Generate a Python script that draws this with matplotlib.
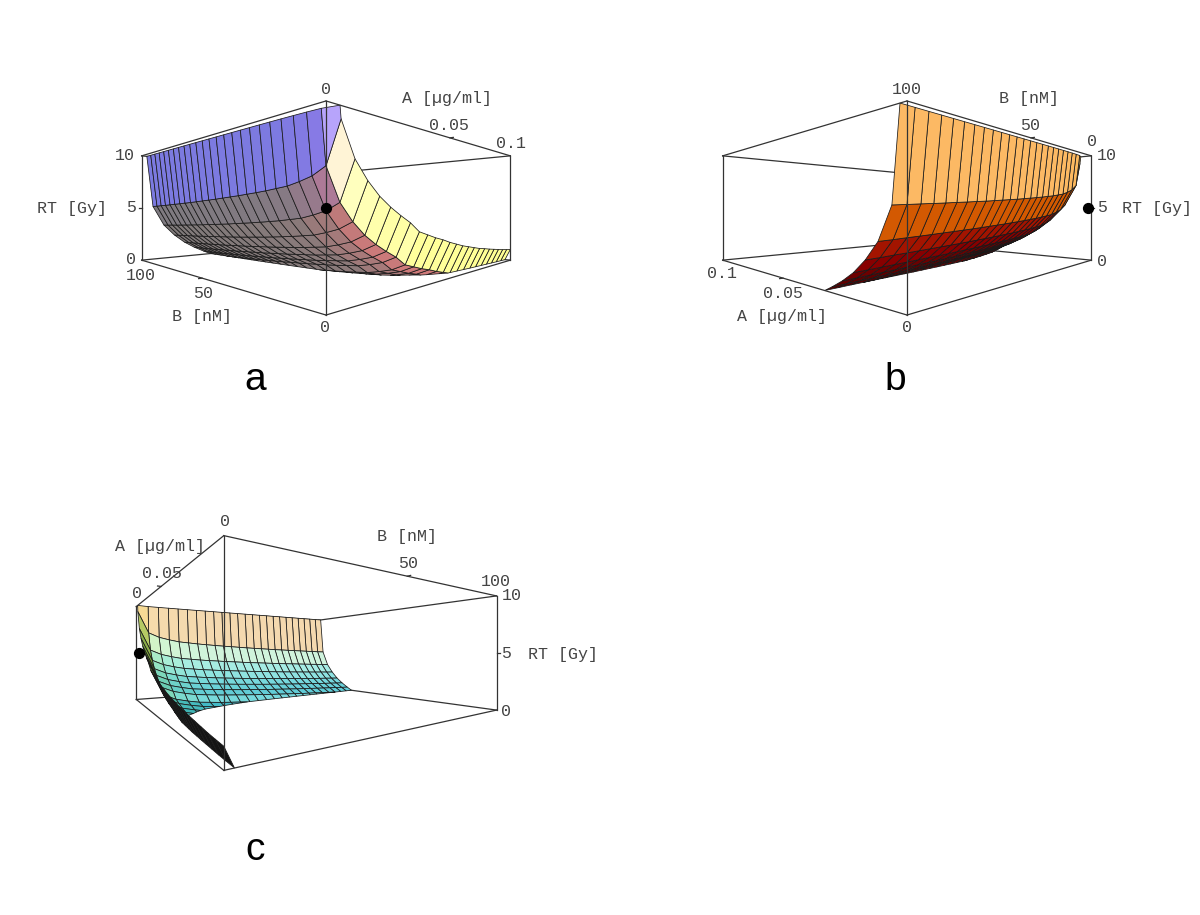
import numpy as np
import matplotlib
matplotlib.use("Agg")
import matplotlib.pyplot as plt
from mpl_toolkits.mplot3d.art3d import Poly3DCollection

# RT [Gy] contribution read along each drug axis (24 intervals, 25 nodes)
a_max = 0.1
b_max = 100.0
rt_max = 10.0
rt_vs_a = [14.0, 5.15, 3.3, 2.25, 1.45, 0.85, 0.35, -0.1, -0.7, -0.95, -1.2, -1.4, -1.65,
           -1.85, -2.05, -2.2, -2.35, -2.5, -2.6, -2.72, -2.82, -2.92, -3.02, -3.1, -3.17]
rt_vs_b = [4.2, 2.0, 1.55, 1.3, 1.1, 1.0, 0.9, 0.82, 0.75, 0.68, 0.62, 0.56, 0.5,
           0.45, 0.4, 0.35, 0.3, 0.26, 0.22, 0.18, 0.14, 0.1, 0.07, 0.03, 0.0]
point_a = [0.0008]
point_b = [0.8]
point_rt = [5.0]

labels_a = [("0", 326, 89), ("A [µg/ml]", 447, 99), ("0.05", 449, 125), ("0.1", 511, 143),
            ("10", 125, 155), ("5", 131, 208), ("RT [Gy]", 72, 208), ("0", 131, 260),
            ("100", 141, 275), ("50", 203, 293), ("B [nM]", 202, 317), ("0", 325, 327)]
labels_b = [("100", 907, 89), ("B [nM]", 1029, 99), ("50", 1030, 125), ("0", 1092, 141),
            ("10", 1107, 155), ("5", 1102, 208), ("RT [Gy]", 1157, 208), ("0", 1102, 262),
            ("0.1", 722, 274), ("0.05", 783, 293), ("A [µg/ml]", 782, 317), ("0", 907, 327)]
labels_c = [("0", 225, 521), ("A [µg/ml]", 160, 546), ("0.05", 162, 573), ("0", 137, 594),
            ("B [nM]", 407, 536), ("50", 408, 563), ("100", 496, 582), ("10", 512, 596),
            ("5", 506, 654), ("RT [Gy]", 563, 654), ("0", 506, 712)]

W, H = 1200, 915
LIGHTS = np.array([[1, 0, 1], [1, 1, 1], [0, 1, 1]], dtype=float)
LIGHTS = LIGHTS / np.linalg.norm(LIGHTS, axis=1, keepdims=True)


def clip_plane(pts, level, keep_above):
    out = []
    for k in range(len(pts)):
        p, q = pts[k], pts[(k + 1) % len(pts)]
        p_in = p[2] >= level if keep_above else p[2] <= level
        q_in = q[2] >= level if keep_above else q[2] <= level
        if p_in:
            out.append(p)
        if p_in != q_in:
            t = (level - p[2]) / (q[2] - p[2])
            out.append(p + t * (q - p))
    return out


def surface_polys(azim, ratio, ambient, gain):
    A = np.linspace(0, a_max, len(rt_vs_a))
    B = np.linspace(0, b_max, len(rt_vs_b))
    Z = np.add.outer(np.array(rt_vs_a), np.array(rt_vs_b))
    az = np.radians(azim)
    toward = np.array([np.cos(az), np.sin(az), 0])
    right = np.array([-np.sin(az), np.cos(az), 0])
    up = np.array([0, 0, 1.0])
    eye = np.array([0.5, 0.5, 0.2]) + ratio * np.sqrt(0.5) * toward
    polys, colors = [], []
    for i in range(len(A) - 1):
        for j in range(len(B) - 1):
            quad = np.array([[A[i], B[j], Z[i, j]], [A[i + 1], B[j], Z[i + 1, j]],
                             [A[i + 1], B[j + 1], Z[i + 1, j + 1]], [A[i], B[j + 1], Z[i, j + 1]]])
            box = quad / [a_max, b_max, rt_max / 0.33]
            n = np.cross(box[2] - box[0], box[3] - box[1])
            n = n / np.linalg.norm(n)
            if np.dot(eye - box.mean(axis=0), n) < 0:
                n = -n
            view_n = np.array([n @ right, n @ up, n @ toward])
            rgb = np.clip(ambient + np.array(gain) * np.maximum(LIGHTS @ view_n, 0), 0, 1)
            pts = clip_plane(clip_plane(list(quad), 0.0, True), rt_max, False)
            if len(pts) >= 3:
                polys.append(np.array(pts))
                colors.append(rgb)
    return polys, colors


def draw_panel(center, size, azim, ratio, ambient, gain, far_corner, ticks, labels):
    half = size * 0.095 / 0.185
    ax = fig.add_axes([(center[0] - half) / W, (H - center[1] - half) / H, size / W, size / H],
                      projection="3d")
    ax.patch.set_alpha(0)
    ax.computed_zorder = False
    ax.set_xlim(0, a_max)
    ax.set_ylim(0, b_max)
    ax.set_zlim(0, rt_max)
    ax.set_box_aspect((1, 1, 0.4), zoom=0.5)
    hd = np.sqrt(0.5) * 1.2967 * 0.5
    ax.set_proj_type("persp", focal_length=ratio * hd / 10)
    ax.view_init(elev=0, azim=azim)
    ax.set_axis_off()

    # box edges: those touching the far corner sit behind the surface
    xs, ys = [0, a_max], [0, b_max]
    corners = [(x, y) for x in xs for y in ys]
    for (x, y) in corners:
        z_order = 1 if (x, y) == far_corner else 5
        ax.plot([x, x], [y, y], [0, rt_max], color="#333333", lw=0.9, zorder=z_order)
        for z in (0, rt_max):
            for (x2, y2) in corners:
                if (x2 == x) != (y2 == y) and (x, y) < (x2, y2):
                    behind = far_corner in ((x, y), (x2, y2))
                    ax.plot([x, x2], [y, y2], [z, z], color="#333333", lw=0.9,
                            zorder=1 if behind else 5)
    for p, q in ticks:
        ax.plot([p[0], q[0]], [p[1], q[1]], [p[2], q[2]], color="#333333", lw=0.9, zorder=5)

    polys, colors = surface_polys(azim, ratio, ambient, gain)
    ax.add_collection3d(Poly3DCollection(polys, facecolors=colors, edgecolors="#1a1a1a",
                                         linewidths=0.55, zorder=3))
    ax.scatter(point_a, point_b, point_rt, color="black", s=50, depthshade=False, zorder=6)

    for txt, x, y in labels:
        fig.text(x / W, 1 - y / H, txt, family="Liberation Mono", fontsize=12, color="#444444",
                 ha="center", va="center")


fig = plt.figure(figsize=(12, 9.15), dpi=100)

draw_panel((326, 208), 744, -135, 1.95, 0.48, (1, 1.4, 1), (a_max, b_max),
           [((0.05, 0, 10), (0.05, -1, 10)), ((0, 50, 0), (-0.001, 50, 0)), ((0, 100, 5), (-0.001, 100, 5))],
           labels_a)
draw_panel((907, 208), 744, 135, 1.95, 0.0, (1, 1, 1), (a_max, 0),
           [((0, 50, 10), (-0.001, 50, 10)), ((0.05, 100, 0), (0.05, 101, 0)), ((0, 0, 5), (-0.001, 0, 5))],
           labels_b)
draw_panel((298, 653), 731, -34.7, 1.746, 0.08, (0.9, 0.88, 0.9), (0, b_max),
           [((0.1, 50, 10), (0.101, 50, 10)), ((0.05, 0, 10), (0.05, -1, 10)), ((0.1, 100, 5), (0.101, 100, 5))],
           labels_c)

for letter, x, y in [("a", 255, 380), ("b", 895, 380), ("c", 255, 850)]:
    fig.text(x / W, 1 - y / H, letter, family="Liberation Sans", fontsize=28, color="black",
             ha="center", va="center")

fig.savefig("out.png", dpi=100)
